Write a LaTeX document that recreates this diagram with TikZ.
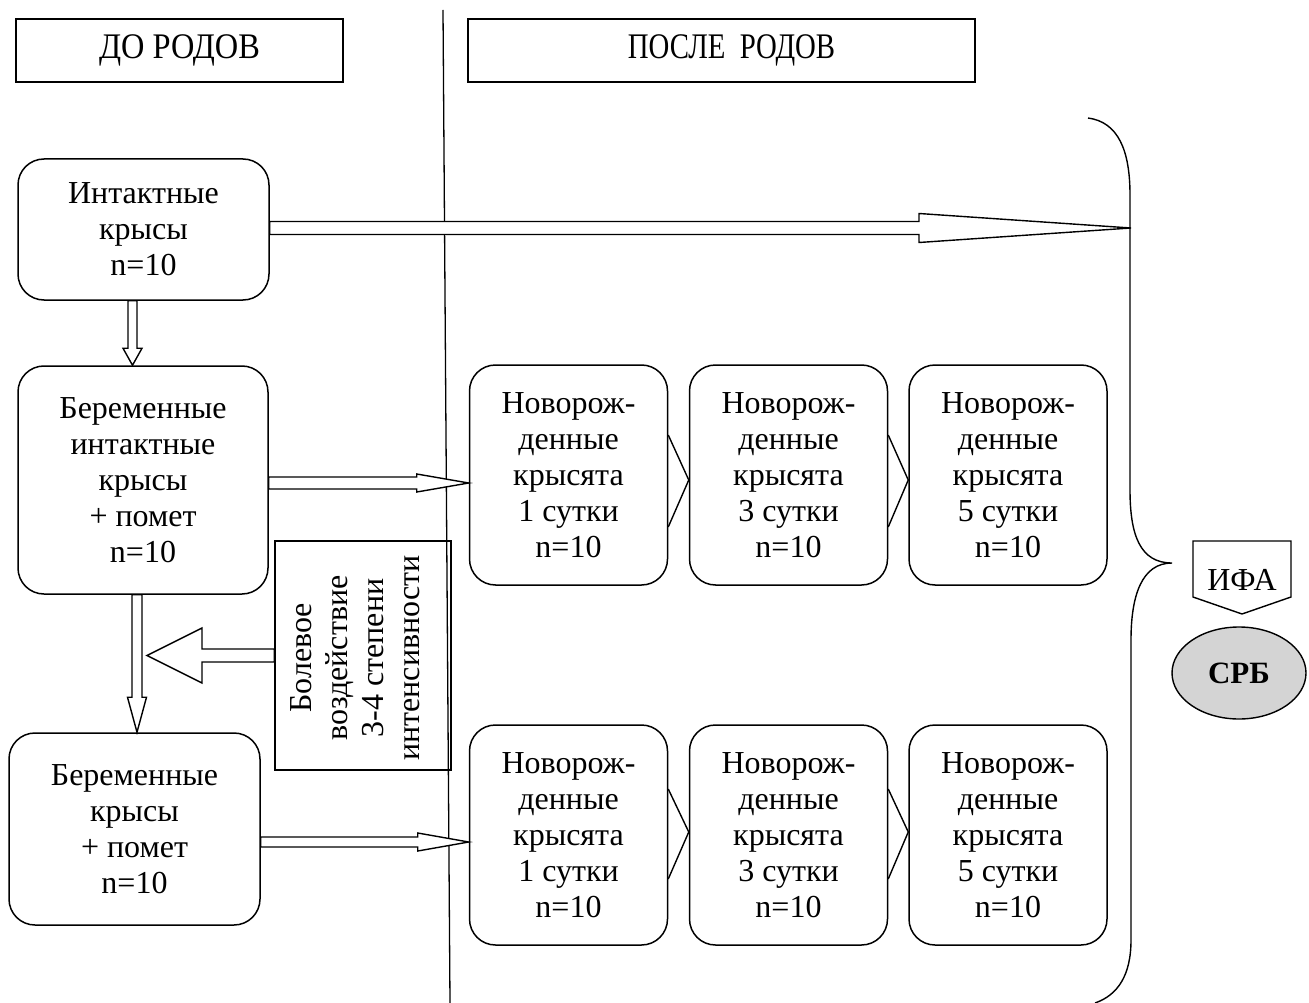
\documentclass[tikz,border=0pt]{standalone}
\usepackage{fontspec}
\setmainfont{Liberation Serif}
\usetikzlibrary{calc,shapes.geometric}
\newcommand\blockarrow[5]{%
  \coordinate (ba-s) at (#1);
  \coordinate (ba-e) at (#2);
  \coordinate (ba-h) at ($(ba-e)!#5!(ba-s)$);
  \draw[barrow] ($(ba-s)!#3!90:(ba-e)$) -- ($(ba-h)!#3!90:(ba-e)$) -- ($(ba-h)!#4!90:(ba-e)$) -- (ba-e)
    -- ($(ba-h)!#4!-90:(ba-e)$) -- ($(ba-h)!#3!-90:(ba-e)$) -- ($(ba-s)!#3!-90:(ba-e)$) -- cycle;
}
\tikzset{
  txt/.style={font=\fontsize{32}{36}\selectfont},
  htxt/.style={font=\fontsize{36}{40}\selectfont, inner sep=0pt},
  rbox/.style={draw, line width=1.5pt, rounded corners=26pt, align=center, inner sep=0pt, txt},
  hbox/.style={draw, line width=1.6pt, inner sep=0pt},
  barrow/.style={draw, fill=white, line width=1.4pt, line join=miter},
  chev/.style={line width=1.4pt},
  brace/.style={line width=1.4pt},
  vline/.style={line width=1.3pt},
}
\begin{document}
\begin{tikzpicture}[x=1pt,y=-1pt]
\useasboundingbox (0,0) rectangle (1309,1003);
% separating line
\coordinate (vtop) at (443,10);
\coordinate (vbot) at (450,1003);
\draw[vline] (vtop) -- (vbot);

% headers
\node[hbox, minimum width=327, minimum height=63] (hdo) at (179.5,50.5) {};
\node[htxt] (hdotext) at (hdo.center) {\scalebox{0.9}[1]{ДО РОДОВ}};
\node[hbox, minimum width=507, minimum height=63] (hposle) at (721.5,50.5) {};
\node[htxt] (hpostext) at ($(hposle.center)+(10,0)$) {\scalebox{0.8}[1]{ПОСЛЕ\ \ РОДОВ}};

% left column
\node[rbox, minimum width=251, minimum height=141] (i) at (143.5,229.5) {Интактные\\крысы\\n=10};
\node[rbox, minimum width=250, minimum height=228] (p1) at (143,480) {Беременные\\интактные\\крысы\\+ помет\\n=10};
\node[rbox, minimum width=251, minimum height=192] (p2) at (134.5,829) {Беременные\\крысы\\+ помет\\n=10};

% pain box
\node[draw, line width=1.5pt, minimum width=176, minimum height=229, inner sep=0pt] (pain) at (363,655.5) {};
\node[txt, rotate=90, align=center, inner sep=0pt] (paintext) at (355.5,658) {Болевое\\воздействие\\3-4 степени\\интенсивности};

% newborn rows
\foreach \n/\x/\y/\d in {n1/568.5/475/1, n2/788.5/475/3, n3/1008/475/5, n4/568.5/835/1, n5/788.5/835/3, n6/1008/835/5}{
  \node[rbox, minimum width=198, minimum height=220] (\n) at (\x,\y) {Новорож-\\денные\\крысята\\\d\ сутки\\n=10};
}

% chevrons
\draw[chev] ($(n1.east)+(0,-40)$) -- ($(n2.west)+(0,5)$) -- ($(n1.east)+(0,52)$);
\draw[chev] ($(n2.east)+(0,-40)$) -- ($(n3.west)+(0,5)$) -- ($(n2.east)+(0,52)$);
\draw[chev] ($(n4.east)+(0,-46)$) -- ($(n5.west)+(0,-3)$) -- ($(n4.east)+(0,44)$);
\draw[chev] ($(n5.east)+(0,-46)$) -- ($(n6.west)+(0,-3)$) -- ($(n5.east)+(0,44)$);

% brace
\coordinate (brtop) at (1088,118);
\coordinate (brtip) at (1172,563);
\coordinate (brbot) at (1095,1003);
\coordinate (bracehit) at (1131,228);
\draw[brace] (brtop) .. controls (1118,122) and (1130,150) .. (1130,195) -- (1130,490)
  .. controls (1130,535) and (1140,563) .. (brtip)
  .. controls (1142,563) and (1131,595) .. (1131,640) -- (1131,940)
  .. controls (1131,975) and (1118,995) .. (brbot);

% block arrows
\coordinate (a1s) at ($(i.east)+(0,-1.5)$);
\blockarrow{a1s}{bracehit}{6.5pt}{14.5pt}{212pt}
\coordinate (a2s) at ($(p1.east)+(0,3)$);
\coordinate (a2e) at ($(n1.west)+(0,8)$);
\blockarrow{a2s}{a2e}{6pt}{9pt}{52pt}
\coordinate (a3s) at ($(p2.east)+(0,13)$);
\coordinate (a3e) at ($(n4.west)+(0,7)$);
\blockarrow{a3s}{a3e}{5pt}{9pt}{51pt}
\coordinate (v1s) at ($(i.south)+(-11,0)$);
\coordinate (v1e) at (v1s |- p1.north);
\blockarrow{v1s}{v1e}{4.5pt}{9.5pt}{17pt}
\coordinate (v2s) at ($(p1.south)+(-6,0)$);
\coordinate (v2e) at (v2s |- p2.north);
\blockarrow{v2s}{v2e}{5pt}{9.5pt}{35pt}
\coordinate (paintip) at ($(v2s |- pain.west)+(10,0)$);
\blockarrow{pain.west}{paintip}{6.5pt}{27.5pt}{55pt}

% ИФА and СРБ
\node[txt, inner sep=0pt, anchor=base] (ifa) at (1242,590) {ИФА};
\draw[line width=1.4pt] (1193,541) -- (1291,541) -- (1291,597) -- (1242,614) -- (1193,597) -- cycle;
\node[ellipse, draw, line width=1.4pt, fill=black!17, minimum width=134, minimum height=92, inner sep=0pt, font=\fontsize{31}{36}\selectfont\bfseries] (srb) at (1239,673) {СРБ};
\end{tikzpicture}
\end{document}
